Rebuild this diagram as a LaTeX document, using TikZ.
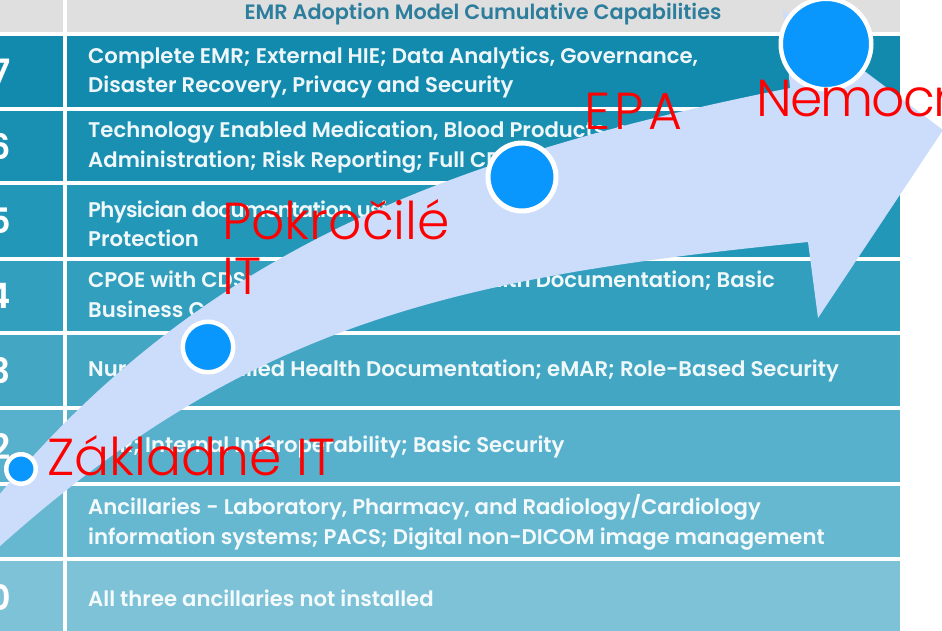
\documentclass[tikz,border=0pt]{standalone}
\usepackage{fontspec}
\IfFontExistsTF{Poppins SemiBold}
  {\newfontfamily\tabfont{Poppins SemiBold}}
  {\newfontfamily\tabfont{Poppins}[FakeBold=1]}
\IfFontExistsTF{Poppins Light}
  {\newfontfamily\lblfont{Poppins Light}}
  {\newfontfamily\lblfont{Poppins}}

\definecolor{hdrgray}{HTML}{DFDFDF}
\definecolor{hdrteal}{HTML}{2D7D9D}
\definecolor{stage7}{HTML}{128AAD}
\definecolor{stage6}{HTML}{1990B2}
\definecolor{stage5}{HTML}{2397B8}
\definecolor{stage4}{HTML}{329FBE}
\definecolor{stage3}{HTML}{43A7C4}
\definecolor{stage2}{HTML}{58B1CC}
\definecolor{stage1}{HTML}{66B8D1}
\definecolor{stage0}{HTML}{7EC2D8}
\definecolor{bandblue}{HTML}{CCDDFC}
\definecolor{dotblue}{HTML}{0A97FD}

\begin{document}
\begin{tikzpicture}[x=1pt, y=-1pt,
  stagebox/.style={anchor=west, align=left, inner sep=0pt, text=white, text opacity=.93,
    font=\tabfont\fontsize{21.2}{29.5}\selectfont},
  stagenum/.style={anchor=east, inner sep=0pt, text=white, font=\tabfont\fontsize{35}{35}\selectfont},
  sepline/.style={white, line width=4pt},
  milestone/.style={circle, fill=dotblue, draw=white, line width=4.5pt, inner sep=0pt},
  milelabel/.style={anchor=base west, align=left, inner sep=0pt, text=red,
    font=\lblfont\fontsize{52}{55}\selectfont}]

\useasboundingbox (0,0) rectangle (942,631);
\clip (0,0) rectangle (942,631);

\fill[hdrgray] (-20,-20) rectangle (900,34);
\node[font=\tabfont\fontsize{20.8}{21}\selectfont, text=hdrteal] (header) at (483,14)
  {EMR Adoption Model Cumulative Capabilities};

\foreach \num/\top/\bot/\txt in {
  7/34/109/{Complete EMR; External HIE; Data Analytics, Governance,\\Disaster Recovery, Privacy and Security},
  6/109/183/{Technology Enabled Medication, Blood Products, and Human Milk\\Administration; Risk Reporting; Full CDS},
  5/183/259/{{\addfontfeature{LetterSpace=-3}Physician documentation using structured templates; Full Intrusion/Device}\\Protection},
  4/259/333/{CPOE with CDS; Nursing and Allied Health Documentation; Basic\\Business Continuity},
  3/333/408/{Nursing and Allied Health Documentation; eMAR; Role-Based Security},
  2/408/484/{CDR; Internal Interoperability; Basic Security},
  1/484/559/{Ancillaries - Laboratory, Pharmacy, and Radiology/Cardiology\\information systems; PACS; Digital non-DICOM image management},
  0/559/636/{All three ancillaries not installed}}
{
  \fill[fill=stage\num] (-20,\top) rectangle (900,\bot);
  \node[stagenum] (num\num) at (11,{(\top+\bot)/2}) {\num};
  \node[stagebox] (stage\num) at (88,{(\top+\bot)/2+1}) {\txt};
}
\foreach \yy in {34,109,183,259,333,408,484,559}
  \draw[sepline] (-20,\yy) -- (900,\yy);
\draw[sepline] (65,-20) -- (65,640);

% the big arrow
\fill[bandblue] (-1,495) .. controls (200,255) and (440,158) .. (790,88) -- (783,10) -- (943,130)
  -- (818,318) -- (808,242) .. controls (458,277) and (250,322) .. (-1,547) -- cycle;

\node[milestone, minimum size=29.5pt] (zakladneDot) at (21,469) {};
\node[milestone, minimum size=50.5pt] (pokrocileDot) at (208,347) {};
\node[milestone, minimum size=68pt, line width=5pt] (epaDot) at (522,177) {};
\node[milestone, minimum size=90.5pt] (nemocnDot) at (826,44) {};

\node[milelabel] (zakladneLbl) at (47,475) {Základné IT};
\node[milelabel] (pokrocileLbl) at (222,294) {Pokročilé\\IT};
\node[milelabel] (epaLbl) at (584,130) {\addfontfeature{LetterSpace=8}EPA};
\node[milelabel] (nemocnLbl) at (756,117) {\addfontfeature{LetterSpace=-3.5}Nemocn};

\end{tikzpicture}
\end{document}
